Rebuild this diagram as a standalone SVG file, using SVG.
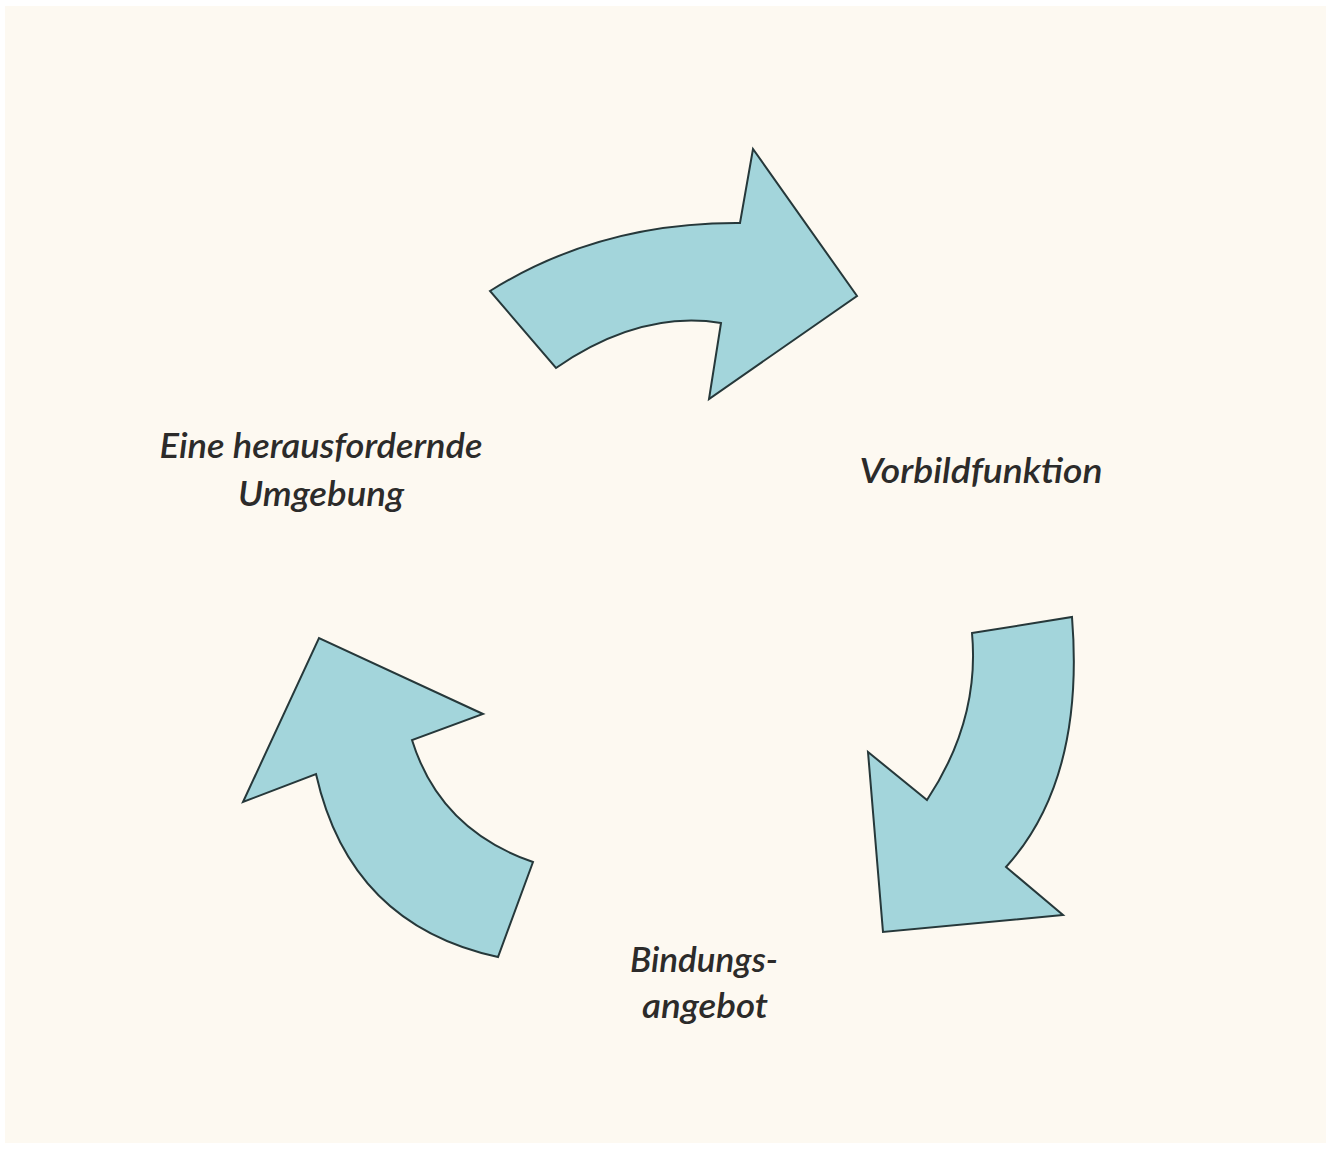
<svg xmlns="http://www.w3.org/2000/svg" width="1331" height="1149" viewBox="0 0 1331 1149">
<style>
.arrow{fill:#a3d5db;stroke:#26383a;stroke-width:2;stroke-linejoin:miter}
.lbl{font-family:Lato,"Open Sans","Liberation Sans",sans-serif;font-style:italic;font-weight:600;font-size:34px;fill:#2c2b2a;text-anchor:middle}
</style>
<rect x="0" y="0" width="1331" height="1149" fill="#ffffff"/>
<rect x="5" y="6" width="1321" height="1137" fill="#fdf9f1"/>
<g id="connectors">
<path id="arrow-top" class="arrow" d="M490,291 Q600,222 740,223 L753,149 L857,296 L709,399 L721,323 Q640,310 556,368 Z"/>
<path id="arrow-right" class="arrow" d="M972,633 L1072,617 Q1085,780 1006,867 L1063,915 L883,932 L868,752 L927,800 Q980,720 972,633 Z"/>
<path id="arrow-left" class="arrow" d="M533,862 L498,957 Q350,925 316,774 L243,802 L319,638 L483,714 L412,740 Q440,830 533,862 Z"/>
</g>
<g id="node-umgebung">
<text class="lbl" x="321" y="458" textLength="323" lengthAdjust="spacingAndGlyphs">Eine herausfordernde</text>
<text class="lbl" x="321" y="506" textLength="166" lengthAdjust="spacingAndGlyphs">Umgebung</text>
</g>
<g id="node-vorbild">
<text class="lbl" x="981" y="483" textLength="243" lengthAdjust="spacingAndGlyphs">Vorbildfunktion</text>
</g>
<g id="node-bindung">
<text class="lbl" x="704" y="972" textLength="148" lengthAdjust="spacingAndGlyphs">Bindungs-</text>
<text class="lbl" x="705" y="1018" textLength="126" lengthAdjust="spacingAndGlyphs">angebot</text>
</g>
</svg>
